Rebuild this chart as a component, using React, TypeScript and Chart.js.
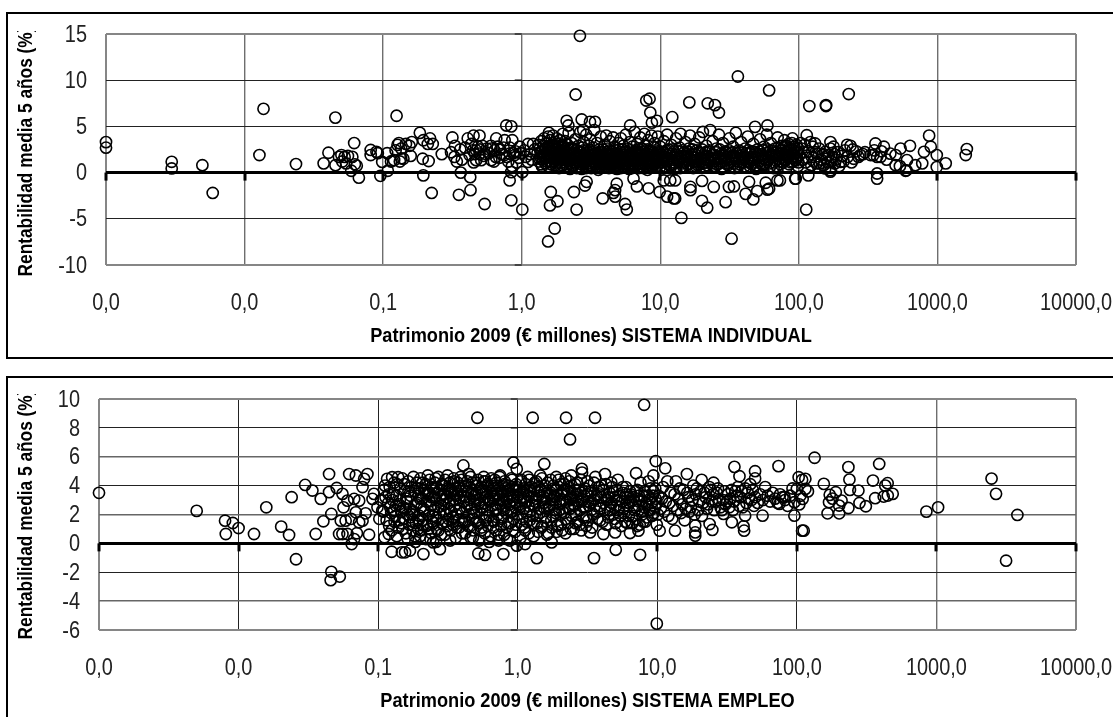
import React, { useEffect, useRef } from "react";
import { Chart, registerables } from "chart.js";

Chart.register(...registerables);

const DECADES = [0.001, 0.01, 0.1, 1, 10, 100, 1000, 10000];
const X_MIN = 0.001;
const X_MAX = 10000;
const Y_TITLE = "Rentabilidad media 5 años (%)";
const X_TITLE_INDIVIDUAL = "Patrimonio 2009 (€ millones) SISTEMA INDIVIDUAL";
const X_TITLE_EMPLEO = "Patrimonio 2009 (€ millones) SISTEMA EMPLEO";

// SISTEMA INDIVIDUAL: [patrimonio, rentabilidad]
const indSmall = [[0.001,3.3],[0.001,2.7],[0.00298,1.17],[0.00298,0.45],[0.00496,0.8],[0.00589,-2.2],[0.0128,1.9],[0.0137,6.9],[0.0235,0.92],[0.0372,1.0],[0.0403,2.15],[0.0452,5.95],[0.0453,0.8],[0.0618,3.2],[0.05,1.9],[0.048,1.7],[0.0527,1.7],[0.0557,1.8],[0.0599,1.7],[0.0507,1.2],[0.054,1.0],[0.0645,0.75],[0.0625,0.9],[0.0589,0.2],[0.0668,-0.55],[0.0813,2.45],[0.0813,1.9],[0.0895,2.25],[0.0915,2.1],[0.0955,-0.35],[0.0985,1.15],[0.107,2.1],[0.108,0.2],[0.114,1.2],[0.12,1.35],[0.125,6.15],[0.127,3.0],[0.123,2.4],[0.13,3.2],[0.135,2.6],[0.14,1.5],[0.132,1.2]];
const indTenths = [[0.146,3.1],[0.161,3.3],[0.155,2.9],[0.135,1.55],[0.184,4.3],[0.195,3.5],[0.218,3.7],[0.228,3.1],[0.21,3.1],[0.158,1.8],[0.193,1.5],[0.213,1.25],[0.195,-0.3],[0.224,-2.2],[0.265,2.0],[0.316,3.8],[0.309,2.2],[0.327,1.7],[0.34,1.2],[0.363,0],[0.352,-2.4],[0.427,-1.9],[0.425,-0.5],[0.54,-3.4],[0.408,3.7],[0.449,4.0],[0.496,4.0],[0.432,3.1],[0.483,2.8],[0.444,2.4],[0.496,2.05],[0.469,1.35],[0.51,1.35],[0.54,2.05],[0.603,1.35],[0.655,3.7],[0.637,2.4],[0.603,2.6],[0.753,3.5],[0.855,3.5],[0.774,5.1],[0.841,5.0],[0.818,2.05],[0.89,1.9],[0.967,2.8],[0.84,0.05],[0.818,-0.85],[0.841,-3],[0.6,2.9],[0.7,2.5],[0.75,1.9],[0.65,1.7],[0.72,2.0],[0.9,2.3],[0.95,1.6],[0.8,1.2],[0.85,0.7],[0.52,2.9],[0.56,2.6],[0.46,2.0],[0.42,1.9],[0.39,2.7],[0.36,2.5],[0.33,2.9],[0.37,1.4],[0.45,1.1],[0.47,2.4],[0.5,2.5],[0.53,1.8],[0.58,2.1],[0.63,1.2],[0.67,2.8],[0.69,1.6],[0.74,2.7],[0.78,1.7],[0.82,2.7],[0.87,2.1],[0.92,1.1],[0.98,2.1],[1.04,2.4],[1.07,1.7],[1.15,2.0],[1.18,1.4],[1.24,2.5]];
const indOutliersLow = [[1.01,0.05],[1.01,-4.0],[1.55,-7.45],[1.73,-6.05],[1.62,-2.1],[1.81,-3.1],[1.6,-3.55],[2.38,-2.1],[2.49,-4.0],[2.86,-1.4],[2.94,-1.0],[3.84,-2.8],[4.59,-2.2],[4.72,-1.9],[4.72,-2.6],[5.57,-3.4],[5.73,-4.0],[4.85,-1.2],[6.41,-0.65],[6.78,-1.5],[8.23,-1.7],[9.89,-2.1],[11.2,-2.6],[12.5,-2.8],[12.8,-2.8],[14.2,-4.9],[10.6,-0.85],[11.8,-0.85],[12.8,-0.85],[16.5,-1.55],[16.5,-1.9],[20,-0.9],[20,-3.05],[21.8,-3.8],[24.3,-1.55],[29.6,-3.2],[32.7,-7.15],[31.3,-1.55],[34,-1.5],[43.7,-1],[41.3,-2.3],[46.9,-2.9],[50.1,-2],[59.3,-1.85],[57.7,-1.1],[61,-1.75],[70,-0.85],[95,-0.65],[113,-4.0]];
const indOutliersHigh = [[2.63,14.8],[2.45,8.45],[2.11,5.6],[2.17,5.1],[1.57,4.3],[2.71,5.75],[2.78,4.6],[3.11,5.5],[3.38,5.5],[7.92,7.8],[8.37,8.0],[8.47,6.5],[8.7,5.4],[9.46,5.6],[12.2,6],[16.2,7.6],[22,7.5],[24.8,7.3],[26.5,6.5],[36.3,10.4],[61,8.9],[59.3,5.1],[48.3,4.95],[6.06,5.1],[119,7.2],[157,7.3],[157,7.2],[229,8.5]];
const indBlob = [[1.11,1.15],[1.11,3.1],[1.21,3.1],[1.3,2.1],[1.32,3.0],[1.33,1.2],[1.35,2.6],[1.36,1.7],[1.38,3.4],[1.39,0.9],[1.41,2.3],[1.42,1.4],[1.44,2.9],[1.45,3.7],[1.46,1.9],[1.48,1.0],[1.49,2.5],[1.5,3.2],[1.52,1.6],[1.53,2.1],[1.55,3.9],[1.56,0.7],[1.57,2.8],[1.58,1.3],[1.6,3.5],[1.61,2.3],[1.62,1.8],[1.64,3.0],[1.65,1.1],[1.67,2.6],[1.68,4.0],[1.7,2.0],[1.71,1.5],[1.73,3.3],[1.74,2.9],[1.76,0.8],[1.77,2.4],[1.79,3.7],[1.8,1.7],[1.82,3.1],[1.83,2.2],[1.85,1.2],[1.87,2.7],[1.88,3.5],[1.9,1.9],[1.92,0.6],[1.93,2.4],[1.95,3.0],[1.97,1.4],[1.98,4.2],[2.0,2.1],[2.02,2.8],[2.04,1.6],[2.06,3.4],[2.08,0.9],[2.1,2.3],[2.12,1.3],[2.14,3.0],[2.16,1.9],[2.18,4.3],[2.2,2.5],[2.23,0.4],[2.26,1.5],[2.29,3.2]];
const indTwoToFive = [[2.32,1.9],[2.35,0.8],[2.38,2.6],[2.41,1.3],[2.44,3.6],[2.47,2.0],[2.5,0.5],[2.53,1.6],[2.56,2.9],[2.59,1.1],[2.62,2.3],[2.65,4.4],[2.68,1.7],[2.71,0.4],[2.74,2.7],[2.77,1.4],[2.8,3.3],[2.83,0.9],[2.86,2.0],[2.89,1.6],[2.92,4.1],[2.95,2.4],[2.98,0.7],[3.01,1.3],[3.05,2.9],[3.09,1.9],[3.13,3.6],[3.17,0.5],[3.21,2.2],[3.25,1.2],[3.29,2.7],[3.33,4.6],[3.37,1.6],[3.41,0.9],[3.45,2.1],[3.49,3.2],[3.53,1.4],[3.57,0.3],[3.62,2.5],[3.67,1.8],[3.72,3.9],[3.77,1.1],[3.82,2.2],[3.87,0.7],[3.92,1.5],[3.97,3.0],[4.02,2.0],[4.07,4.0],[4.12,1.2],[4.17,2.6],[4.22,0.6],[4.27,1.8],[4.33,3.4],[4.39,1.4],[4.45,2.3],[4.51,0.9],[4.57,3.8],[4.63,1.7],[4.69,2.8],[4.75,1.0],[4.81,2.1],[4.87,0.4],[4.93,1.5],[4.99,3.2],[2.4,1.0],[2.6,1.5],[2.85,1.2],[3.1,0.8],[3.3,1.9],[3.6,1.1],[3.85,1.7],[4.1,0.9],[4.35,1.1],[4.6,1.3],[4.9,1.9]];
const indFiveToTen = [[5.06,2.5],[5.13,1.2],[5.2,3.7],[5.27,1.9],[5.34,0.7],[5.41,2.9],[5.48,1.5],[5.55,2.2],[5.63,4.1],[5.71,1.0],[5.79,2.6],[5.87,1.7],[5.95,0.4],[6.03,3.3],[6.11,2.0],[6.19,1.3],[6.27,2.8],[6.35,0.8],[6.44,1.9],[6.53,4.4],[6.62,2.4],[6.71,1.1],[6.8,3.1],[6.89,1.6],[6.98,0.5],[7.07,2.2],[7.17,3.8],[7.27,1.4],[7.37,2.6],[7.47,0.9],[7.57,1.8],[7.67,4.2],[7.77,2.9],[7.87,1.2],[7.97,2.1],[8.08,0.3],[8.19,3.5],[8.3,1.6],[8.41,2.4],[8.52,0.8],[8.63,4.0],[8.75,1.9],[8.87,1.3],[8.99,2.7],[9.11,3.2],[9.23,0.6],[9.35,2.0],[9.47,1.5],[9.6,3.9],[9.73,2.3],[9.86,1.0],[5.3,1.4],[5.6,0.9],[6,1.6],[6.4,1.2],[6.9,2.0],[7.3,1.0],[7.8,1.6],[8.2,1.0],[8.8,0.7],[9.3,1.2]];
const indTenToThirty = [[10,2.8],[10.2,1.6],[10.4,0.5],[10.6,3.4],[10.8,2.1],[11,1.2],[11.2,4.1],[11.4,2.5],[11.6,0.8],[11.8,1.8],[12,3.0],[12.2,1.4],[12.5,2.3],[12.7,0.4],[13,3.7],[13.2,1.9],[13.5,1.1],[13.8,2.7],[14,4.2],[14.3,1.5],[14.6,0.7],[14.9,2.2],[15.2,3.3],[15.5,1.7],[15.8,0.9],[16.1,2.6],[16.4,4.0],[16.7,1.3],[17,2.0],[17.3,0.5],[17.7,3.1],[18,1.6],[18.4,2.4],[18.7,0.8],[19.1,3.8],[19.5,1.2],[19.9,2.1],[20.3,4.4],[20.7,1.8],[21.1,0.6],[21.5,2.9],[21.9,1.4],[22.4,2.2],[22.9,4.6],[23.4,1.0],[23.9,3.4],[24.4,1.9],[24.9,0.7],[25.4,2.6],[26,1.5],[26.5,4.1],[27.1,2.0],[27.7,0.4],[28.3,3.2],[28.9,1.2],[29.5,2.3],[10.5,1.3],[11.5,1.5],[12.4,0.9],[13.4,1.5],[14.5,1.0],[15.6,2.0],[16.9,1.7],[18.2,1.1],[19.7,1.6],[21.3,1.1],[23,1.5],[24.7,1.3],[26.7,1.0],[28.7,1.8]];
const indThirtyPlus = [[30.1,1.7],[30.8,0.8],[31.5,3.7],[32.2,2.1],[32.9,1.3],[33.6,2.8],[34.3,0.5],[35.1,4.3],[35.9,1.6],[36.7,2.4],[37.5,0.9],[38.3,3.3],[39.2,1.9],[40.1,1.1],[41,2.6],[41.9,0.6],[42.8,3.9],[43.8,1.5],[44.8,2.2],[45.8,0.9],[46.9,3.1],[48,1.7],[49.1,0.4],[50.2,2.5],[51.3,1.2],[52.5,3.6],[53.7,2.0],[54.9,0.8],[56.1,2.8],[57.4,1.4],[58.7,4.1],[60,2.2],[61.4,1.0],[62.8,3.2],[64.2,1.7],[65.7,0.5],[67.2,2.6],[68.7,1.3],[70.3,3.8],[71.9,2.0],[73.5,0.9],[75.2,2.9],[76.9,1.5],[78.6,3.5],[80.4,2.2],[82.2,0.6],[84.1,3.1],[86,1.8],[87.9,1.1],[89.9,3.7],[91.9,2.4],[94,1.4],[96.1,3.0],[98.3,0.7],[31,1.4],[34,1.8],[37,1.2],[40,1.7],[44,1.1],[47,1.4],[51,1.9],[55,1.5],[59,1.2],[63,2.4],[66,1.9],[69,2.2],[72,1.5],[74,2.4],[77,1.1],[79,1.9],[81,1.4],[83,2.4],[85,2.7],[88,2.1],[90,1.2],[92,1.8],[95,2.1],[97,1.6],[99,2.6]];
const indLarge = [[114,4.05],[169,3.3],[223,3],[236,2.9],[357,3.15],[411,2.8],[367,-0.1],[367,-0.65],[542,2.6],[634,2.9],[871,4],[800,2.25],[895,2.8],[989,1.9],[1148,1],[777,1],[692,0.8],[603,1.35],[499,0.8],[536,0.7],[598,0.25],[589,0.2],[499,1.9],[457,2.05],[389,1.7],[367,1.7],[329,1.9],[269,1.7],[249,1.5],[278,1.9],[1630,2.55],[1600,1.9],[989,0.6],[169,0.25],[169,0.1],[200,1.15],[117,-0.3],[94,-0.65],[73,-0.85],[182,1],[151,0.8],[135,1.0],[124,1.7],[135,2.05],[147,1.9],[131,3.15],[121,3.3],[155,2.25],[169,2.6],[178,2.8],[105,2.6],[110,3.0],[118,2.3],[126,2.8],[140,2.6],[145,1.4],[158,1.5],[165,1.9],[172,1.2],[190,2.2],[205,1.8],[215,2.4],[128,1.2],[138,0.6],[155,0.45],[180,2.0],[245,2.5],[260,2.3],[290,2.0],[300,2.2],[345,1.9],[350,2.4],[395,2.3],[430,1.4],[115,1.6],[123,0.8],[132,2.2],[142,1.0],[150,2.0],[162,1.1],[175,1.7],[185,1.4],[195,0.7],[210,1.2],[225,1.7],[240,1.1]];
const indCoreLow = [[1.34,1.5],[1.37,2.2],[1.4,0.7],[1.43,1.8],[1.47,2.6],[1.51,1.2],[1.54,1.9],[1.59,2.4],[1.63,0.9],[1.66,1.6],[1.69,2.9],[1.72,1.2],[1.75,2.2],[1.78,1.0],[1.81,2.5],[1.84,1.5],[1.86,0.5],[1.89,2.3],[1.91,1.3],[1.94,2.8],[1.96,0.8],[1.99,1.7],[2.03,2.5],[2.05,1.1],[2.07,1.9],[2.11,0.7],[2.15,2.4],[2.19,1.5],[2.22,2.0],[2.25,1.0],[2.28,2.7],[2.31,1.4],[2.34,0.6],[2.37,2.0],[2.42,1.1],[2.46,1.6],[2.49,2.4],[2.55,0.7],[2.58,1.9],[2.61,1.2],[2.67,2.2],[2.7,0.9],[2.75,1.6],[2.79,2.4],[2.82,1.0],[2.87,1.8],[2.91,0.5],[2.96,1.5],[3.0,2.2],[3.04,1.0],[3.08,1.6],[3.12,2.4],[3.16,0.8],[3.2,1.5],[3.24,1.9],[3.28,0.6],[3.32,1.2],[3.36,2.3],[3.4,1.5],[3.46,0.7],[3.5,1.9],[3.56,1.2],[3.61,1.7],[3.66,0.5],[3.71,2.2],[3.76,1.5],[3.81,0.9],[3.86,2.5],[3.91,1.2],[3.96,1.9],[4.01,0.7],[4.06,1.5],[4.11,2.2],[4.16,1.0],[4.21,1.8],[4.26,0.5],[4.32,2.4],[4.38,1.2],[4.44,1.6],[4.5,0.8],[4.56,2.0],[4.62,1.1],[4.68,0.5],[4.74,1.7],[4.8,2.4],[4.86,1.2],[4.92,0.8],[4.98,1.5],[5.05,1.0],[5.12,2.2],[5.19,0.5],[5.26,1.6],[5.33,2.5],[5.4,1.2],[5.47,0.7],[5.54,1.9],[5.62,1.4],[5.7,2.3],[5.78,0.6],[5.86,1.2],[5.94,1.9],[6.02,0.8],[6.1,2.4],[6.18,1.6],[6.26,0.5],[6.34,1.9],[6.43,1.0],[6.52,1.5],[6.61,0.7],[6.7,2.2],[6.79,1.3],[6.88,0.9],[6.97,1.8],[7.06,2.5],[7.16,0.7],[7.26,1.9],[7.36,1.2],[7.46,2.3],[7.56,0.5],[7.66,1.5],[7.76,2.0],[7.86,0.9],[7.96,1.4],[8.07,2.5],[8.18,0.7],[8.29,1.9],[8.4,1.2],[8.51,2.2],[8.62,0.6],[8.74,1.5],[8.86,2.1],[8.98,0.9],[9.1,1.7],[9.22,2.4],[9.34,1.3],[9.46,0.7],[9.59,1.9],[9.72,1.4],[9.85,2.2],[9.98,0.6]];
const indCoreHigh = [[10.1,2.0],[10.3,1.1],[10.7,1.7],[10.9,0.7],[11.1,2.4],[11.3,1.3],[11.7,2.0],[11.9,0.8],[12.1,1.6],[12.3,2.5],[12.6,1.1],[12.9,1.9],[13.1,0.7],[13.3,2.3],[13.6,1.3],[13.9,0.5],[14.1,1.8],[14.4,2.4],[14.7,1.2],[15,1.8],[15.3,0.6],[15.7,1.4],[15.9,2.3],[16.2,1.0],[16.6,1.9],[16.8,0.6],[17.1,2.5],[17.5,1.2],[17.8,2.0],[18.1,0.7],[18.5,1.4],[18.9,2.2],[19.3,0.9],[19.6,1.5],[20,2.5],[20.4,1.0],[20.8,1.4],[21.2,2.2],[21.7,0.8],[22.1,1.7],[22.6,2.4],[23.1,1.2],[23.6,1.9],[24.1,0.7],[24.6,1.5],[25.1,2.2],[25.7,0.9],[26.2,1.7],[26.8,2.5],[27.4,1.2],[28,1.9],[28.6,0.6],[29.2,1.4],[29.8,2.2],[30.5,1.0],[31.2,2.4],[31.9,0.6],[32.6,1.7],[33.3,2.2],[34.1,1.0],[34.8,1.5],[35.6,2.1],[36.4,0.7],[37.2,1.5],[38,2.3],[38.8,1.1],[39.7,1.6],[40.6,0.7],[41.5,2.1],[42.4,1.2],[43.3,2.4],[44.3,0.7],[45.3,1.7],[46.4,2.3],[47.5,1.1],[48.6,2.2],[49.7,0.8],[50.8,1.6],[52,2.3],[53.2,1.0],[54.4,1.8],[55.6,2.4],[56.8,0.9],[58,1.7],[59.4,2.5],[60.7,1.4],[62.1,0.7],[63.5,1.9],[64.9,2.3],[66.4,1.1],[67.9,1.8],[69.4,0.7],[71,2.7],[72.6,1.8],[74.2,1.2],[75.9,2.1],[77.6,2.7],[79.4,1.4],[81.2,2.9],[83.1,1.7],[85,0.9],[86.9,2.4],[88.9,3.2],[90.9,1.6],[93,2.8],[95.1,1.3],[97.2,2.3],[99.4,1.1],[101,1.9],[103,3.2],[107,1.4],[109,2.2],[112,1.1]];

// SISTEMA EMPLEO: [patrimonio, rentabilidad]
const empSmall = [[0.001,3.5],[0.00501,2.25],[0.008,1.57],[0.0091,1.41],[0.01,1.06],[0.0081,0.65],[0.0129,0.65],[0.0158,2.5],[0.0202,1.16],[0.023,0.58],[0.024,3.2],[0.0258,-1.1],[0.03,4.05],[0.0338,3.66],[0.0388,3.08],[0.0357,0.65],[0.0445,4.8],[0.0445,3.55],[0.0505,3.84],[0.0555,3.43],[0.0462,2.04],[0.0405,1.53],[0.0462,-1.97],[0.0457,-2.55],[0.0531,-2.3],[0.0525,0.65],[0.0555,0.65],[0.0603,0.65],[0.054,1.57],[0.0585,1.57],[0.0565,2.5],[0.0603,2.96],[0.0673,3.08],[0.0731,2.96],[0.062,4.8],[0.0692,4.7],[0.0794,4.47],[0.0838,4.8],[0.0773,3.9],[0.0646,-0.05],[0.0673,0.3],[0.0704,0.7],[0.0861,0.6],[0.0813,2.08],[0.0692,2.15],[0.064,1.7],[0.0731,1.46],[0.0773,1.57],[0.0933,3.43],[0.0912,3.08],[0.0989,2.5],[0.107,2.27],[0.102,1.7],[0.111,0.42],[0.119,0.65],[0.125,-0.58]];
const empTenths = [[0.116,4.47],[0.126,4.58],[0.139,4.58],[0.11,3.7],[0.113,3.2],[0.118,2.8],[0.121,3.9],[0.124,2.1],[0.128,3.4],[0.131,1.5],[0.134,2.6],[0.137,4.1],[0.14,1.1],[0.143,3.0],[0.146,2.2],[0.149,4.5],[0.152,1.7],[0.155,3.6],[0.158,0.7],[0.161,2.9],[0.164,4.3],[0.167,1.3],[0.171,3.3],[0.175,2.0],[0.179,4.6],[0.183,0.5],[0.187,2.7],[0.191,3.8],[0.195,1.6],[0.199,3.1],[0.203,0.9],[0.207,4.2],[0.212,2.4],[0.217,3.5],[0.222,1.2],[0.227,4.7],[0.232,2.9],[0.237,0.3],[0.242,3.9],[0.247,1.9],[0.252,3.2],[0.258,4.5],[0.264,1.0],[0.27,2.5],[0.276,3.7],[0.282,0.6],[0.288,4.1],[0.294,2.2],[0.3,3.4],[0.307,1.5],[0.314,4.7],[0.321,2.8],[0.328,0.2],[0.335,3.6],[0.342,1.8],[0.35,4.3],[0.358,3.0],[0.366,1.1],[0.374,3.9],[0.382,2.4],[0.39,4.6],[0.399,0.7],[0.408,3.3],[0.417,1.6],[0.426,4.0],[0.436,2.7],[0.446,4.8],[0.456,1.2],[0.466,3.5],[0.477,0.4],[0.488,2.1],[0.499,4.2],[0.51,3.0],[0.522,1.4],[0.534,3.8],[0.546,0.9],[0.558,2.5],[0.571,4.6],[0.584,3.2],[0.597,1.8],[0.611,4.0],[0.625,0.1],[0.639,2.9],[0.654,3.6],[0.669,1.1],[0.684,4.4],[0.7,2.3],[0.716,3.4],[0.732,0.6],[0.749,4.7],[0.766,1.7],[0.783,3.0],[0.801,4.1],[0.82,2.6],[0.839,0.3],[0.858,3.7],[0.878,1.4],[0.898,4.5],[0.918,2.2],[0.94,3.3],[0.961,0.8],[0.983,3.9],[0.2,3.8],[0.23,3.5],[0.26,3.9],[0.29,3.0],[0.32,3.7],[0.35,3.4],[0.38,4.0],[0.41,2.9],[0.44,3.6],[0.47,4.2],[0.5,3.4],[0.53,2.8],[0.56,3.7],[0.59,4.3],[0.62,3.1],[0.65,4.0],[0.68,3.3],[0.71,2.7],[0.74,3.8],[0.77,3.5],[0.8,2.9],[0.84,3.6],[0.88,3.2],[0.92,3.9],[0.96,2.8],[0.156,-0.62],[0.169,-0.5],[0.148,-0.62],[0.211,-0.74],[0.277,-0.4],[0.248,0.07],[0.408,5.4],[0.514,8.7],[0.522,-0.7],[0.583,-0.8],[0.789,-0.74],[0.931,5.6],[0.984,5.16],[0.984,-0.16],[0.105,3.0],[0.109,2.2],[0.112,4.0],[0.115,1.6],[0.119,3.4],[0.122,2.5],[0.127,3.0],[0.13,4.2],[0.133,1.9],[0.136,3.3],[0.141,2.7],[0.144,3.8],[0.147,1.4],[0.151,2.5],[0.154,4.1],[0.159,3.1],[0.162,2.0],[0.165,3.6],[0.169,2.4],[0.173,3.9],[0.177,1.5]];
const empOnes = [[1.28,8.7],[2.22,8.7],[3.58,8.7],[2.37,7.2],[8.05,9.6],[9.92,-5.56],[1.55,5.5],[2.88,5.16],[3.52,-1.02],[5.04,-0.44],[7.53,-0.79],[9.75,5.7],[7.05,4.86],[9.38,4.7],[1.13,-0.05],[1.75,0.07],[1.37,-1.02],[6.38,0.72],[7.33,0.88],[4.11,0.65],[4.99,0.76],[3.3,0.76]];
const empOneToThree = [[1.01,3.4],[1.03,2.5],[1.05,4.3],[1.07,1.3],[1.09,3.0],[1.11,3.8],[1.13,0.9],[1.15,2.1],[1.18,4.6],[1.2,3.3],[1.22,1.6],[1.25,3.9],[1.27,2.7],[1.3,0.5],[1.32,4.2],[1.35,3.1],[1.37,1.9],[1.4,3.6],[1.43,2.4],[1.45,4.7],[1.48,1.1],[1.51,3.3],[1.54,2.8],[1.57,4.0],[1.6,1.5],[1.63,3.5],[1.66,0.7],[1.69,2.6],[1.72,4.4],[1.75,3.0],[1.78,1.9],[1.82,3.8],[1.85,2.3],[1.89,4.6],[1.92,1.2],[1.96,3.3],[2,2.7],[2.04,4.1],[2.08,0.9],[2.12,3.6],[2.16,2.1],[2.2,4.5],[2.24,2.9],[2.28,1.4],[2.33,3.9],[2.37,2.4],[2.42,4.7],[2.47,3.2],[2.52,1.0],[2.57,3.7],[2.62,2.0],[2.67,4.2],[2.72,2.9],[2.78,1.3],[2.83,3.5],[2.89,4.9],[2.95,2.5],[1.1,3.5],[1.16,2.9],[1.24,3.6],[1.33,2.6],[1.42,3.9],[1.52,3.0],[1.62,2.4],[1.73,3.5],[1.84,3.2],[1.98,2.3],[2.1,3.0],[2.26,3.4],[2.4,3.0],[2.55,2.6],[2.7,3.4],[2.86,2.9]];
const empThreeToTen = [[3,3.3],[3.08,1.8],[3.16,4.3],[3.24,2.6],[3.33,3.6],[3.42,1.1],[3.51,3.0],[3.6,4.6],[3.7,2.2],[3.8,3.4],[3.9,1.6],[4,4.0],[4.11,2.8],[4.22,4.8],[4.33,1.3],[4.45,3.2],[4.57,2.3],[4.69,4.2],[4.82,3.6],[4.95,1.7],[5.08,3.0],[5.22,4.4],[5.36,2.5],[5.5,1.2],[5.65,3.5],[5.8,2.1],[5.96,3.9],[6.12,1.4],[6.29,2.8],[6.46,3.4],[6.63,1.9],[6.81,2.5],[7,3.6],[7.19,1.2],[7.38,2.9],[7.58,4.2],[7.79,2.2],[8,3.3],[8.22,1.5],[8.44,2.7],[8.67,4.3],[8.9,3.1],[9.14,1.9],[9.39,3.6],[9.65,2.5],[9.91,1.3],[3.2,2.9],[3.55,3.1],[3.9,2.6],[4.3,3.1],[4.7,2.8],[5.1,2.6],[5.6,2.9],[6.1,3.2],[6.7,3.0],[7.4,3.3],[8.1,2.5],[8.9,2.3],[9.7,3.1]];
const empTens = [[11.4,5.2],[16.3,4.8],[20.8,4.4],[25.3,4.2],[35.7,5.3],[38.8,4.65],[50.2,5],[50.2,4.5],[73.9,5.35],[10.4,0.88],[13.4,0.88],[18.7,1.23],[18.7,0.76],[18.7,0.53],[23.7,1.34],[24.8,0.93],[41.5,1.18],[41.9,0.88],[56.8,1.92],[42.6,1.92],[34.2,1.46],[29.8,2.04],[10.2,3.3],[10.6,2.4],[11,3.9],[11.5,2.9],[12,1.9],[12.5,3.5],[13,2.6],[13.6,4.3],[14.2,3.1],[14.8,2.1],[15.4,3.7],[16,2.4],[16.7,3.2],[17.4,2.5],[18.1,4.0],[18.8,3.4],[19.6,2.3],[20.4,3.6],[21.3,2.8],[22.2,3.2],[23.1,2.7],[24.1,3.7],[25.1,3.4],[26.1,2.9],[27.2,3.8],[28.4,2.5],[29.6,3.0],[30.8,2.7],[32.1,3.4],[33.4,3.1],[34.8,2.3],[36.3,3.6],[37.8,3.9],[39.4,3.2],[41,2.5],[42.7,3.8],[44.5,3.5],[46.4,4.1],[48.3,3.7],[50.3,3.2],[52.4,2.8],[54.6,3.4],[56.9,3.0],[59.3,3.9],[61.8,3.3],[64.4,2.9],[67.1,3.5],[69.9,3.1],[72.8,2.8],[75.8,3.4],[79,3.2],[82.3,3.0],[85.8,2.6],[89.4,3.3],[93.1,3.8],[10.1,2.0],[10.8,3.1],[11.2,2.2],[11.8,4.3],[12.2,2.8],[12.8,1.7],[13.3,3.4],[13.9,2.3],[14.5,3.8],[15.1,2.7],[15.7,1.6],[16.4,3.5],[17,2.2],[17.8,3.0],[18.5,2.0],[19.2,3.8],[20,2.9],[20.9,1.9],[21.8,3.5],[22.7,2.4],[23.6,3.9],[24.6,2.9],[25.6,2.3],[26.7,3.5],[27.8,3.0],[29,2.3],[30.2,3.6],[31.5,2.9],[32.8,2.5],[34.1,3.7],[35.5,2.9],[37,3.3],[38.6,2.6],[40.2,3.6],[43.5,2.8],[45.4,3.1],[47.3,3.0],[49.3,2.6]];
const empHundreds = [[112,0.88],[96,1.92],[96,2.85],[110,3.08],[81.5,3.2],[75,2.73],[109,0.88],[134,5.93],[234,5.28],[389,5.5],[238,4.42],[351,4.35],[447,4.17],[430,4],[156,4.12],[103,4.58],[109,4.4],[115,4.47],[100,3.77],[115,3.77],[190,3.54],[172,3.36],[170,2.85],[209,2.96],[201,2.62],[201,2.08],[166,2.08],[234,2.45],[281,2.8],[312,2.57],[364,3.13],[419,3.24],[448,3.31],[486,3.43],[240,3.7],[276,3.66],[847,2.2],[1028,2.5],[2483,4.49],[2673,3.43],[3802,1.97],[3155,-1.2],[104,2.7],[106,3.3],[120,3.6],[180,3.1]];
const empCoreTenths = [[0.18,2.2],[0.183,3.6],[0.186,1.4],[0.189,4.2],[0.192,2.8],[0.195,3.3],[0.198,1.9],[0.201,4.5],[0.204,2.5],[0.207,3.1],[0.21,1.6],[0.213,3.7],[0.216,2.2],[0.219,4.1],[0.222,2.9],[0.225,1.3],[0.228,3.4],[0.231,2.0],[0.234,4.4],[0.238,2.6],[0.241,3.2],[0.244,1.5],[0.248,3.8],[0.251,2.3],[0.255,4.2],[0.259,3.0],[0.262,1.8],[0.266,3.5],[0.27,4.6],[0.274,2.1],[0.278,3.1],[0.282,2.6],[0.286,4.0],[0.29,1.4],[0.294,3.4],[0.298,2.7],[0.302,4.4],[0.306,2.0],[0.31,3.2],[0.314,3.8],[0.318,1.7],[0.322,2.4],[0.326,4.2],[0.33,3.0],[0.334,2.2],[0.338,3.5],[0.343,1.3],[0.348,4.5],[0.352,2.6],[0.357,3.8],[0.362,2.0],[0.367,3.3],[0.372,4.2],[0.377,1.6],[0.382,3.0],[0.387,2.4],[0.392,3.6],[0.397,4.4],[0.403,2.1],[0.408,2.9],[0.413,3.9],[0.419,1.5],[0.425,3.2],[0.43,2.5],[0.436,4.3],[0.442,3.6],[0.448,2.0],[0.454,3.0],[0.46,4.6],[0.466,2.4],[0.473,3.7],[0.479,1.7],[0.486,3.3],[0.492,2.7],[0.499,4.0],[0.506,2.2],[0.513,3.5],[0.52,4.4],[0.527,1.4],[0.534,3.0],[0.541,2.5],[0.549,3.9],[0.556,2.0],[0.564,3.4],[0.572,4.3],[0.579,2.8],[0.587,1.6],[0.595,3.6],[0.604,2.3],[0.612,4.1],[0.62,3.0],[0.629,1.9],[0.638,3.5],[0.646,4.5],[0.655,2.6],[0.664,3.1],[0.674,1.5],[0.683,3.8],[0.692,2.4],[0.702,4.2],[0.712,3.3],[0.721,2.0],[0.731,3.0],[0.741,4.6],[0.752,2.7],[0.762,3.6],[0.773,1.8],[0.783,3.3],[0.794,2.3],[0.805,4.3],[0.816,3.8],[0.827,2.1],[0.839,3.1],[0.85,1.4],[0.862,4.0],[0.874,2.7],[0.886,3.4],[0.898,2.2],[0.911,4.4],[0.923,3.0],[0.936,1.7],[0.949,3.7],[0.962,2.5],[0.976,4.1],[0.989,3.2]];
const empCoreOnes = [[1.0,2.0],[1.02,3.7],[1.04,2.9],[1.06,4.4],[1.08,1.7],[1.1,2.4],[1.12,3.2],[1.14,4.1],[1.16,1.5],[1.17,3.6],[1.19,2.6],[1.21,4.4],[1.23,2.2],[1.26,3.2],[1.28,1.9],[1.31,3.8],[1.34,2.9],[1.36,4.3],[1.38,1.4],[1.41,3.3],[1.44,2.1],[1.46,3.7],[1.49,4.5],[1.53,2.5],[1.56,3.6],[1.58,1.8],[1.61,3.1],[1.64,4.2],[1.67,2.4],[1.7,3.4],[1.74,1.6],[1.77,2.7],[1.8,4.0],[1.83,3.3],[1.87,2.1],[1.9,3.7],[1.94,1.3],[1.97,4.4],[2.01,2.9],[2.05,3.5],[2.09,2.2],[2.13,4.1],[2.17,3.0],[2.21,1.7],[2.25,3.7],[2.29,2.5],[2.34,4.3],[2.38,3.1],[2.43,1.9],[2.48,3.5],[2.53,2.7],[2.58,4.1],[2.63,3.2],[2.68,1.5],[2.73,3.7],[2.79,2.3],[2.84,4.4],[2.9,3.0],[2.96,1.8],[3.02,3.8],[3.07,2.5],[3.14,3.4],[3.2,1.6],[3.26,4.0],[3.32,2.8],[3.39,3.5],[3.46,2.0],[3.52,4.2],[3.6,2.6],[3.67,3.3],[3.74,1.7],[3.81,3.9],[3.89,2.4],[3.97,3.2],[4.05,1.5],[4.13,3.7],[4.21,2.3],[4.29,4.1],[4.38,3.0],[4.46,1.8],[4.55,3.5],[4.64,2.6],[4.74,3.9],[4.83,2.0],[4.93,3.2],[5.03,1.4],[5.13,3.7],[5.23,2.3],[5.34,3.3],[5.44,1.9],[5.55,2.9],[5.66,3.9],[5.78,2.4],[5.89,1.5],[6.01,3.4],[6.13,2.6],[6.26,1.9],[6.38,3.6],[6.51,2.9],[6.64,1.4],[6.77,3.2],[6.91,2.3],[7.05,1.7],[7.19,3.7],[7.33,2.6],[7.48,1.3],[7.63,3.0],[7.78,2.0],[7.94,1.5],[8.1,3.6],[8.26,2.8],[8.42,1.8],[8.59,3.3],[8.76,2.3],[8.94,3.8],[9.12,2.8],[9.3,3.3],[9.48,2.1],[9.67,3.8],[9.87,2.8]];
const empCoreLowBand = [[0.12,1.2],[0.125,0.9],[0.13,2.3],[0.136,0.5],[0.142,1.6],[0.15,1.0],[0.157,2.4],[0.163,0.3],[0.17,1.8],[0.178,0.9],[0.185,0.1],[0.193,1.0],[0.2,0.5],[0.21,1.3],[0.22,0.3],[0.23,1.0],[0.24,0.7],[0.25,1.4],[0.26,0.1],[0.27,0.9],[0.285,1.4],[0.3,0.6],[0.315,1.2],[0.33,0.9],[0.345,1.5],[0.36,0.4],[0.38,1.1],[0.4,1.5],[0.42,0.7],[0.44,1.2],[0.46,0.4],[0.48,0.9],[0.505,1.5],[0.53,0.2],[0.55,1.1],[0.58,0.7],[0.61,1.2],[0.64,0.5],[0.67,1.6],[0.7,0.9],[0.73,0.2],[0.76,1.2],[0.8,0.6],[0.84,1.1],[0.88,0.2],[0.92,0.9],[0.97,1.3],[1.05,0.4],[1.12,1.1],[1.2,0.7],[1.3,1.3],[1.4,0.8],[1.5,1.2],[1.62,0.6],[1.75,1.1],[1.9,0.8],[2.05,1.3],[2.2,0.7],[2.4,1.0],[2.6,1.4],[2.85,0.9],[3.1,1.2]];

const individualPoints = [...indSmall, ...indTenths, ...indOutliersLow, ...indOutliersHigh, ...indBlob, ...indTwoToFive, ...indFiveToTen, ...indTenToThirty, ...indThirtyPlus, ...indLarge, ...indCoreLow, ...indCoreHigh];
const empleoPoints = [...empSmall, ...empTenths, ...empOnes, ...empOneToThree, ...empThreeToTen, ...empTens, ...empHundreds, ...empCoreTenths, ...empCoreOnes, ...empCoreLowBand];

const FONT = "'Liberation Sans', Arial, sans-serif";
const NARROW_TICKS = 0.83;
const NARROW_TITLE_X = 0.866;
const NARROW_TITLE_Y = 0.865;

type Cfg = {
  points: number[][];
  xTitle: string;
  height: number;
  plotLeft: number;
  plotTop: number;
  plotBottom: number;
  yMin: number;
  yMax: number;
  yStep: number;
  yGrid: (v: number) => [string, number];
  xGrid: (v: number) => [string, number];
  maskBottom: number;
  xTitlePad: number;
  yTitleShift: number;
};

// No condensed font is installed, so text is squeezed through fillText's maxWidth argument.
const condensedText = {
  id: "condensedText",
  beforeDraw(chart: any) {
    const ctx = chart.ctx;
    if (ctx.__patched) return;
    ctx.__patched = true;
    const original = ctx.fillText.bind(ctx);
    const shift = chart.options.plugins.axisMarks.yTitleShift;
    ctx.fillText = (t: string, x: number, y: number) => {
      const isY = t === Y_TITLE;
      const ratio = isY ? NARROW_TITLE_Y : t.startsWith("Patrimonio") ? NARROW_TITLE_X : NARROW_TICKS;
      original(t, isY ? x - shift : x, y + 1, ctx.measureText(t).width * ratio);
    };
  },
};

const axisMarks = {
  id: "axisMarks",
  afterDatasetsDraw(chart: any) {
    const { ctx, scales } = chart;
    const { x, y } = scales;
    const zero = y.getPixelForValue(0);
    const one = x.getPixelForValue(1);
    ctx.save();
    ctx.fillStyle = "#000";
    DECADES.forEach((d) => {
      ctx.fillRect(Math.round(x.getPixelForValue(d)) - 1.5, zero, 3, 8);
    });
    y.ticks.forEach((t: any) => {
      ctx.fillRect(one - 7, Math.round(y.getPixelForValue(t.value)) - 0.5, 7, 1);
    });
    ctx.restore();
  },
  afterDraw(chart: any) {
    const m = chart.options.plugins.axisMarks;
    chart.ctx.clearRect(12, m.maskBottom - 16, 30, 16);
  },
};

function makeConfig(c: Cfg): any {
  return {
    type: "scatter",
    plugins: [condensedText, axisMarks],
    data: {
      datasets: [
        {
          data: c.points.map(([x, y]) => ({ x, y })),
          pointStyle: "circle",
          pointRadius: 5.6,
          pointBorderWidth: 1.6,
          pointBorderColor: "#000",
          pointBackgroundColor: "transparent",
          clip: false,
        },
      ],
    },
    options: {
      animation: false,
      responsive: false,
      layout: { padding: { left: 0, top: c.plotTop, right: 37, bottom: 0 } },
      plugins: {
        legend: { display: false },
        tooltip: { enabled: false },
        axisMarks: { maskBottom: c.maskBottom, yTitleShift: c.yTitleShift },
      },
      scales: {
        x: {
          type: "logarithmic",
          min: X_MIN,
          max: X_MAX,
          afterBuildTicks(s: any) {
            s.ticks = DECADES.map((value) => ({ value }));
          },
          afterFit(s: any) {
            s.height = c.height - c.plotBottom;
            s.paddingLeft = 0;
            s.paddingRight = 0;
          },
          grid: {
            drawTicks: false,
            color: (ctx: any) => c.xGrid(ctx.tick.value)[0],
            lineWidth: (ctx: any) => c.xGrid(ctx.tick.value)[1],
          },
          border: { display: false },
          ticks: {
            autoSkip: false,
            maxRotation: 0,
            padding: 23,
            color: "#222",
            font: { family: FONT, size: 24 },
            callback: (v: number) => Number(v).toFixed(1).replace(".", ","),
          },
          title: {
            display: true,
            text: c.xTitle,
            color: "#000",
            font: { family: FONT, size: 21, weight: "bold" },
            padding: { top: 0, bottom: c.xTitlePad },
          },
        },
        y: {
          min: c.yMin,
          max: c.yMax,
          afterFit(s: any) {
            s.width = c.plotLeft;
            s.paddingTop = 0;
            s.paddingBottom = 0;
          },
          grid: {
            drawTicks: false,
            color: (ctx: any) => c.yGrid(ctx.tick.value)[0],
            lineWidth: (ctx: any) => c.yGrid(ctx.tick.value)[1],
          },
          border: { display: false },
          ticks: {
            autoSkip: false,
            stepSize: c.yStep,
            padding: 19,
            color: "#222",
            font: { family: FONT, size: 24 },
          },
          title: {
            display: true,
            text: Y_TITLE,
            color: "#000",
            font: { family: FONT, size: 20, weight: "bold" },
            padding: { top: 13, bottom: 0 },
          },
        },
      },
    },
  };
}

const GRAY = "#868686";

const topCfg: Cfg = {
  points: individualPoints,
  xTitle: X_TITLE_INDIVIDUAL,
  height: 360,
  plotLeft: 106,
  plotTop: 34,
  plotBottom: 265,
  yMin: -10,
  yMax: 15,
  yStep: 5,
  yGrid: (v) => (v === 0 ? ["#000", 3] : v === -10 || v === 15 ? [GRAY, 2] : ["#222", 1]),
  xGrid: (v) => (v === X_MIN || v === X_MAX ? [GRAY, 2] : ["#6e6e6e", 1.4]),
  maskBottom: 31,
  xTitlePad: 12,
  yTitleShift: 2,
};

const bottomCfg: Cfg = {
  points: empleoPoints,
  xTitle: X_TITLE_EMPLEO,
  height: 357,
  plotLeft: 99,
  plotTop: 39,
  plotBottom: 270,
  yMin: -6,
  yMax: 10,
  yStep: 2,
  yGrid: (v) =>
    v === 0 ? ["#000", 3] : v === -6 || v === 10 ? [GRAY, 2] : v === 6 || v === 2 || v === -4 ? ["#666", 1.5] : ["#222", 1],
  xGrid: (v) => (v === X_MIN || v === X_MAX ? [GRAY, 2] : v === 1000 ? ["#6e6e6e", 1.4] : ["#222", 1]),
  maskBottom: 34,
  xTitlePad: 4,
  yTitleShift: 0,
};

export default function App() {
  const topRef = useRef<HTMLCanvasElement>(null);
  const bottomRef = useRef<HTMLCanvasElement>(null);

  useEffect(() => {
    const a = new Chart(topRef.current!, makeConfig(topCfg));
    const b = new Chart(bottomRef.current!, makeConfig(bottomCfg));
    return () => {
      a.destroy();
      b.destroy();
    };
  }, []);

  const frame = (top: number, height: number): React.CSSProperties => ({
    position: "absolute",
    left: 6,
    top,
    width: 1200,
    height,
    border: "2px solid #000",
  });

  return (
    <div style={{ position: "absolute", left: 0, top: 0, width: 1113, height: 717, overflow: "hidden", background: "#fff" }}>
      <div style={frame(12, 343)} />
      <div style={frame(376, 500)} />
      <canvas ref={topRef} width={1113} height={360} style={{ position: "absolute", left: 0, top: 0 }} />
      <canvas ref={bottomRef} width={1113} height={357} style={{ position: "absolute", left: 0, top: 360 }} />
    </div>
  );
}
